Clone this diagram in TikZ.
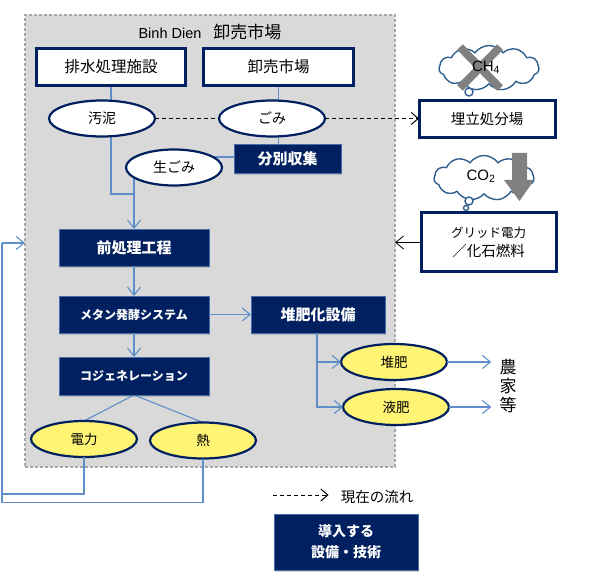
\documentclass[tikz,border=0pt]{standalone}
\usepackage{fontspec}
\setmainfont{Noto Sans CJK JP}
\newfontfamily\latinfont{Liberation Sans}
\usepackage{xcolor}
\usetikzlibrary{shapes.geometric, shapes.symbols, arrows.meta, positioning, backgrounds, shadows}
\definecolor{navy}{HTML}{002060}
\definecolor{flowblue}{HTML}{5E8FC8}
\definecolor{cloudblue}{HTML}{2F5F8F}
\definecolor{paleyellow}{HTML}{FFF474}
\newcommand{\fsize}[1]{\fontsize{#1}{#1}\selectfont}

\begin{document}
\begin{tikzpicture}[
  x=1pt, y=-1pt,
  whitebox/.style={rectangle, draw=navy, line width=3pt, fill=white, outer sep=0pt, inner sep=0pt,
                   minimum width=149pt, minimum height=37pt, align=center, font=\fsize{15.5}},
  navybox/.style={rectangle, draw=flowblue!70!navy, line width=0.8pt, fill=navy, text=white, outer sep=0pt, inner sep=0pt,
                  minimum width=150pt, minimum height=37pt, align=center, font=\fsize{15}\bfseries,
                  drop shadow={shadow xshift=1pt, shadow yshift=-2pt, opacity=0.35}},
  whiteoval/.style={ellipse, draw=navy, line width=2.2pt, fill=white, outer sep=0pt, inner sep=0pt,
                    minimum width=106pt, minimum height=36pt, font=\fsize{14}},
  yellowoval/.style={whiteoval, fill=paleyellow, font=\fsize{13.5}},
  puff/.style={cloud, cloud puffs=11, cloud puff arc=110, aspect=2.2, draw=cloudblue, line width=1.4pt,
               fill=white, inner sep=0pt, minimum width=100pt, minimum height=45pt},
  bubble/.style={circle, draw=cloudblue, line width=1.4pt, fill=white, inner sep=0pt},
  cross/.style={draw=gray, line width=8pt},
  flow/.style={draw=flowblue, line width=1.1pt},
  arrow/.style={flow, -{Straight Barb[length=8pt, width=13pt, line width=1.1pt]}},
  current/.style={draw=black, line width=1pt, dash pattern=on 4pt off 3pt},
  currentarrow/.style={current, -{Straight Barb[length=7pt, width=12pt, line width=1pt]}}
]
\useasboundingbox (0,0) rectangle (595,580);
\begin{scope}[on background layer]
\node (market) [rectangle, draw=gray!70, line width=1.2pt, dash pattern=on 3pt off 2pt, fill=black!15, minimum width=370pt, minimum height=452pt, outer sep=0pt] at (210,241) {};
\end{scope}
\node (title) [font=\fsize{17}] at (210,32) {{\latinfont\fsize{14.5}Binh Dien}\hspace{12pt}卸売市場};

\node (drain)    [whitebox] at (111,67)                 {排水処理施設};
\node (hall)     [whitebox, right=18pt of drain, minimum width=150pt] {卸売市場};
\node (sludge)   [whiteoval, below=15pt of drain, xshift=-9pt] {汚泥};
\node (waste)    [whiteoval, below=15pt of hall, xshift=-6.5pt] {ごみ};
\node (sorting)  [navybox, below=8pt of waste, xshift=15.5pt, minimum width=107pt, minimum height=29pt] {分別収集};
\node (organic)  [whiteoval, left=12pt of sorting, yshift=-8.5pt, minimum width=96pt] {生ごみ};

\node (pre)      [navybox] at (134,247.5)               {前処理工程};
\node (methane)  [navybox, below=30pt of pre, font=\fsize{12}\bfseries] {メタン発酵システム};
\node (cogen)    [navybox, below=24pt of methane, minimum height=38pt, font=\fsize{12}\bfseries] {コジェネレーション};
\node (power)    [yellowoval] at (84,439)               {電力};
\node (heat)     [yellowoval, right=13pt of power, yshift=-1.5pt] {熱};
\node (composter)[navybox, right=42pt of methane, minimum width=134pt] {堆肥化設備};
\node (compost)  [yellowoval] at (394,362)              {堆肥};
\node (liquid)   [yellowoval, below=9pt of compost, xshift=2pt] {液肥};
\node (farmers)  [inner sep=8pt, align=center, font=\fontsize{17}{19}\selectfont] at (508,386) {農\\家\\等};

\node (landfill) [whitebox, minimum width=136pt, font=\fsize{14.5}] at (487,119.5) {埋立処分場};
\node (grid)     [whitebox, minimum width=135pt, minimum height=59pt, align=center] at (488.5,242.5)
                 {\fontsize{12.5}{19}\selectfont グリッド電力\\[3pt]\fontsize{14.5}{19}\selectfont ／化石燃料};

\node (ch4cloud) [puff] at (489,68) {};
\node (ch4tail)  [bubble, minimum size=8pt] at (469,92) {};
\draw [cross] (460,47) -- (500,88);
\draw [cross] (500,47) -- (460,88);
\node (ch4)      [font=\latinfont\fsize{15}] at (486,67) {CH\textsubscript{4}};

\node (co2cloud) [puff] at (484,178) {};
\node (co2big)   [bubble, minimum size=8pt] at (469,201) {};
\node (co2small) [bubble, minimum size=5pt] at (466,208) {};
\node (co2)      [font=\latinfont\fsize{15}] at (481,176) {CO\textsubscript{2}};
\fill [gray] (512,153) -- (527,153) -- (527,180) -- (534,180) -- (519.5,201) -- (504,180) -- (512,180) -- cycle;

\node (legend)   [inner sep=12pt, font=\fsize{14.5}] at (377,497) {現在の流れ};
\coordinate (legendstart) at (273,495);
\node (newtech)  [navybox, minimum width=144pt, minimum height=56pt, font=\fontsize{14}{21}\selectfont\bfseries] at (346,542) {導入する\\設備・技術};

\coordinate (inlet) at (25,243);
\coordinate (loop) at (2,243);
\coordinate (junction) at (134,194);

\begin{scope}[on background layer]
\draw [flow] (drain.south -| 111,0) -- (111,194) -- (junction);
\draw [flow] (hall.south) -- (hall.south |- sorting.north);
\draw [flow] (sorting.west |- 0,157) -- (organic.center |- 0,157);
\draw [arrow] (134,170) -- (pre.north);
\draw [flow] (cogen.south) -- (power.north);
\draw [flow] (cogen.south) -- (heat.north);
\end{scope}
\draw [current] (sludge.east) -- (sludge.east -| waste.west);
\draw [currentarrow] (waste.east) -- (waste.east -| landfill.west);
\draw [arrow] (pre) -- (methane);
\draw [arrow] (methane) -- (cogen);
\draw [arrow] (methane) -- (composter);
\draw [arrow] (317,333) |- (compost.west);
\draw [arrow] (317,333) |- (liquid.west);
\draw [arrow] (compost.east) -- (compost.east -| farmers.west);
\draw [arrow] (liquid.east) -- (liquid.east -| farmers.west);
\draw [flow] (power.south) -- ++(0,37) -| (loop);
\draw [flow] (heat.south) -- ++(0,44) -| (loop);
\draw [arrow] (loop) -- (inlet);
\draw [-{Straight Barb[length=8pt, width=13pt, line width=0.8pt]}, line width=0.8pt] (grid.west) -- (grid.west -| market.east);
\draw [currentarrow] (legendstart) -- (legendstart -| legend.west);
\end{tikzpicture}
\end{document}
